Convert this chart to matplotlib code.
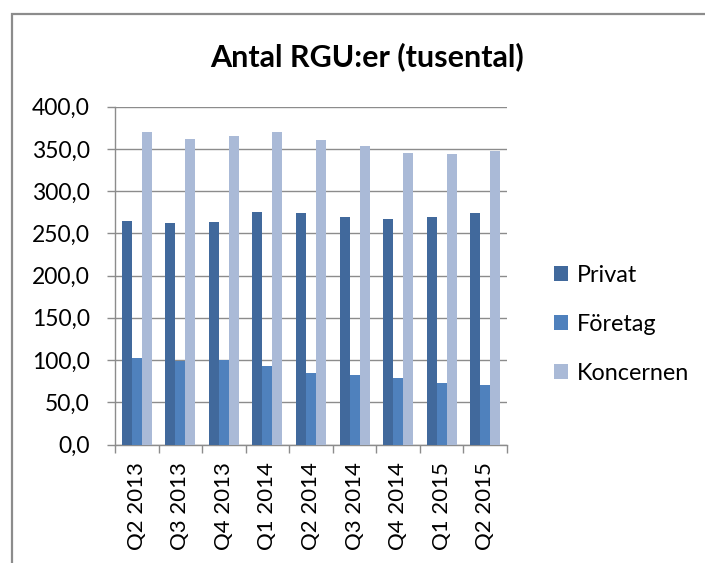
import numpy as np
import matplotlib
matplotlib.use("Agg")
import matplotlib.pyplot as plt
from matplotlib.patches import Rectangle
from matplotlib.ticker import FuncFormatter, FixedLocator

# data (thousands of RGUs)
quarters = ["Q2 2013", "Q3 2013", "Q4 2013", "Q1 2014", "Q2 2014",
            "Q3 2014", "Q4 2014", "Q1 2015", "Q2 2015"]
privat = [265, 262, 263, 275, 274, 269, 267, 269, 274]
foretag = [103, 99, 100, 93, 85, 82, 79, 73, 71]
koncernen = [370, 362, 365, 370, 360, 353, 345, 344, 347]

series_names = ["Privat", "Företag", "Koncernen"]
colors = ["#41699C", "#4F81BD", "#AABAD7"]

plt.rcParams['font.family'] = ['Lato', 'DejaVu Sans']

fig = plt.figure(figsize=(7.05, 5.63), dpi=100)
ax = fig.add_axes([115/705, 1 - 444.5/563, (507 - 115)/705, (444.5 - 106.7)/563])

x = np.arange(len(quarters))
w = 0.23
for k, vals in enumerate([privat, foretag, koncernen]):
    ax.bar(x + (k - 1)*w, vals, width=w, color=colors[k], label=series_names[k],
           zorder=3)

ax.set_xlim(-0.5, len(quarters) - 0.5)
ax.set_ylim(0, 400)
ax.set_yticks(np.arange(0, 401, 50))
ax.yaxis.set_major_formatter(FuncFormatter(lambda v, p: ("%.1f" % v).replace(".", ",")))
ax.grid(axis="y", color="#8C8C8C", lw=1.0, zorder=0)

ax.set_xticks(x)
ax.set_xticklabels(quarters, rotation=90, fontsize=16)
ax.xaxis.set_minor_locator(FixedLocator(np.arange(-0.5, len(quarters), 1.0)))
ax.tick_params(axis="x", which="major", length=0, pad=13)
ax.tick_params(axis="x", which="minor", length=6, color="#8C8C8C", width=1)
ax.tick_params(axis="y", length=6, color="#8C8C8C", width=1, labelsize=16.5, pad=12)

for s in ["top", "right"]:
    ax.spines[s].set_visible(False)
for s in ["left", "bottom"]:
    ax.spines[s].set_color("#8C8C8C")
    ax.spines[s].set_linewidth(1.0)

fig.text(367/705, 1 - 57/563, "Antal RGU:er (tusental)", fontsize=22, fontweight="bold",
         ha="center", va="center")

fig.legend(loc="center left", bbox_to_anchor=(533/705, 1 - 324/563), frameon=False,
           fontsize=16.8, handlelength=0.6, handleheight=0.6, handletextpad=0.4,
           labelspacing=1.2)

# outer chart frame (clipped by the image edges on the right and bottom)
fig.patches.append(Rectangle((12/705, -0.1), 1.2, 1.1 - 14/563, transform=fig.transFigure,
                             fill=False, edgecolor="#8C8C8C", lw=1.6, clip_on=False))

fig.savefig("out.png", dpi=100)
